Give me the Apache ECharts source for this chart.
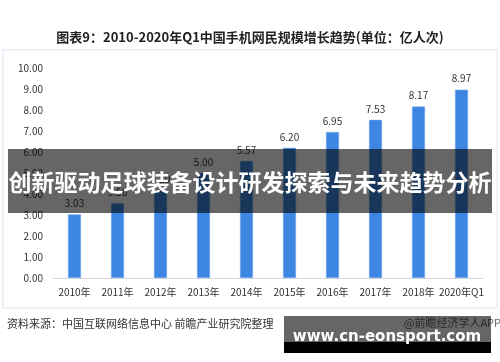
<!DOCTYPE html>
<html>
<head>
<meta charset="utf-8">
<script src="https://cdn.jsdelivr.net/npm/echarts@6/dist/echarts.min.js"></script>
<style>
html,body{margin:0;padding:0;background:#fff;}
#c{width:500px;height:362px;}
</style>
</head>
<body>
<div id="c"></div>
<script>
var categories = ['2010年','2011年','2012年','2013年','2014年','2015年','2016年','2017年','2018年','2020年Q1'];
var users = [3.03, 3.56, 4.20, 5.00, 5.57, 6.20, 6.95, 7.53, 8.17, 8.97];
var titleText = '图表9：2010-2020年Q1中国手机网民规模增长趋势(单位：亿人次)';
var overlayText = '创新驱动足球装备设计研发探索与未来趋势分析';
var sourceText = '资料来源：中国互联网络信息中心 前瞻产业研究院整理';
var brandText = '@前瞻经济学人APP';
var siteText = 'www.cn-eonsport.com';

var FONT = '"Noto Sans CJK SC","Noto Sans",sans-serif';
var chart = echarts.init(document.getElementById('c'), null, {renderer:'canvas'});
chart.setOption({
  animation: false,
  backgroundColor: '#ffffff',
  title: {
    text: titleText, left: 'center', top: 26,
    textStyle: {fontFamily: FONT, fontSize: 13, fontWeight: 'bold', color: '#222'}
  },
  grid: {left: 53, right: 17, top: 68, bottom: 84},
  xAxis: {
    type: 'category', data: categories,
    axisLine: {lineStyle: {color: '#d9d9d9'}},
    axisTick: {show: false},
    axisLabel: {fontFamily: FONT, fontSize: 10, color: '#333', margin: 9, interval: 0}
  },
  yAxis: {
    type: 'value', min: 0, max: 10, interval: 1,
    axisLine: {show: false}, axisTick: {show: false},
    splitLine: {show: false},
    axisLabel: {fontFamily: FONT, fontSize: 10, color: '#333', margin: 10,
      formatter: function(v){return v.toFixed(2);}}
  },
  series: [{
    type: 'bar', data: users, barWidth: 13,
    itemStyle: {color: '#3d86e1', borderColor: '#7fb0ef', borderWidth: 0.5},
    label: {show: true, position: 'top', distance: 6, fontFamily: FONT, fontSize: 10, color: '#333',
      formatter: function(p){return p.value.toFixed(2);}}
  }],
  graphic: [
    {type: 'rect', shape: {x: 3, y: 50, width: 494, height: 258}, z: -1,
     style: {fill: 'none', stroke: '#e9eef6', lineWidth: 1.5}},
    {type: 'text', left: 7, top: 318, z: 10,
     style: {text: sourceText, fontFamily: FONT, fontSize: 11, fill: '#333'}},
    {type: 'text', left: 404, top: 317, z: 10,
     style: {text: brandText, fontFamily: FONT, fontSize: 11, fill: '#666'}},
    {type: 'rect', shape: {x: 8, y: 149, width: 484, height: 64}, z: 50,
     style: {fill: 'rgba(0,0,0,0.6)'}},
    {type: 'text', x: 250, y: 182, z: 51,
     style: {text: overlayText, fontFamily: FONT, fontSize: 23, fontWeight: 'bold', fill: '#fff',
       align: 'center', verticalAlign: 'middle'}},
    {type: 'rect', shape: {x: 284, y: 316, width: 207, height: 26}, z: 50,
     style: {fill: 'rgba(0,0,0,0.6)'}},
    {type: 'rect', shape: {x: 284, y: 342, width: 207, height: 11}, z: 50,
     style: {fill: '#000'}},
    {type: 'text', x: 387, y: 337, z: 51,
     style: {text: siteText, fontFamily: '"DejaVu Sans",sans-serif', fontSize: 15, fontWeight: 'bold', fill: '#fff',
       align: 'center', verticalAlign: 'middle'}}
  ]
});
</script>
</body>
</html>
